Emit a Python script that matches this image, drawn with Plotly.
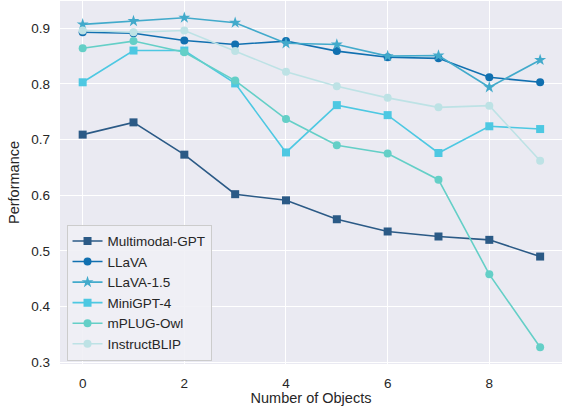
import plotly.graph_objects as go

num_objects = [0, 1, 2, 3, 4, 5, 6, 7, 8, 9]

multimodal_gpt = [0.709, 0.731, 0.673, 0.602, 0.591, 0.557, 0.535, 0.526, 0.520, 0.490]
llava = [0.893, 0.891, 0.878, 0.871, 0.877, 0.859, 0.848, 0.846, 0.812, 0.803]
llava_15 = [0.907, 0.913, 0.919, 0.910, 0.873, 0.871, 0.850, 0.851, 0.794, 0.843]
minigpt4 = [0.803, 0.860, 0.860, 0.801, 0.677, 0.762, 0.744, 0.676, 0.724, 0.719]
mplug_owl = [0.864, 0.877, 0.857, 0.806, 0.737, 0.690, 0.675, 0.628, 0.458, 0.327]
instructblip = [0.896, 0.893, 0.896, 0.859, 0.822, 0.796, 0.775, 0.758, 0.761, 0.662]

series = [
    ("Multimodal-GPT", multimodal_gpt, "#2b5a86", "square", 8),
    ("LLaVA", llava, "#1170b0", "circle", 8),
    ("LLaVA-1.5", llava_15, "#42aacb", "star", 9),
    ("MiniGPT-4", minigpt4, "#4dc8e2", "square", 8),
    ("mPLUG-Owl", mplug_owl, "#64cfc7", "circle", 8),
    ("InstructBLIP", instructblip, "#bde2e5", "circle", 8),
]

fig = go.Figure()
for name, vals, color, sym, size in series:
    fig.add_trace(go.Scatter(
        x=num_objects, y=vals, name=name, mode="lines+markers",
        line=dict(color=color, width=1.6),
        marker=dict(color=color, symbol=sym, size=size, line=dict(width=0)),
    ))

fig.update_layout(
    width=562, height=410,
    margin=dict(l=60, r=0, t=1, b=46),
    paper_bgcolor="white",
    plot_bgcolor="#eaeaf2",
    font=dict(family="Liberation Sans, Arial, sans-serif", size=13, color="#262626"),
    showlegend=True,
    legend=dict(
        x=0.013, y=0.009, xanchor="left", yanchor="bottom",
        bgcolor="rgba(240,240,245,0.9)", bordercolor="#cccccc", borderwidth=1,
        font=dict(size=13.5, color="#262626"),
        tracegroupgap=0, itemwidth=30,
    ),
    xaxis=dict(
        range=[-0.446, 9.43], tickvals=[0, 2, 4, 6, 8],
        showgrid=True, gridcolor="white", gridwidth=1.2, zeroline=False,
        showline=False, ticks="", ticklen=0, ticklabelstandoff=9,
        tickfont=dict(size=13.5),
        title=dict(text="Number of Objects", font=dict(size=14.5), standoff=2),
    ),
    yaxis=dict(
        range=[0.297, 0.949], tickvals=[0.3, 0.4, 0.5, 0.6, 0.7, 0.8, 0.9],
        tickformat=".1f",
        showgrid=True, gridcolor="white", gridwidth=1.2, zeroline=False,
        showline=False, ticks="", ticklen=0, ticklabelstandoff=9,
        tickfont=dict(size=13.5),
        title=dict(text="Performance", font=dict(size=14.5), standoff=8),
    ),
)

fig.write_html("out.html", post_script="document.body.style.margin='0';",
               config={"displayModeBar": False})
